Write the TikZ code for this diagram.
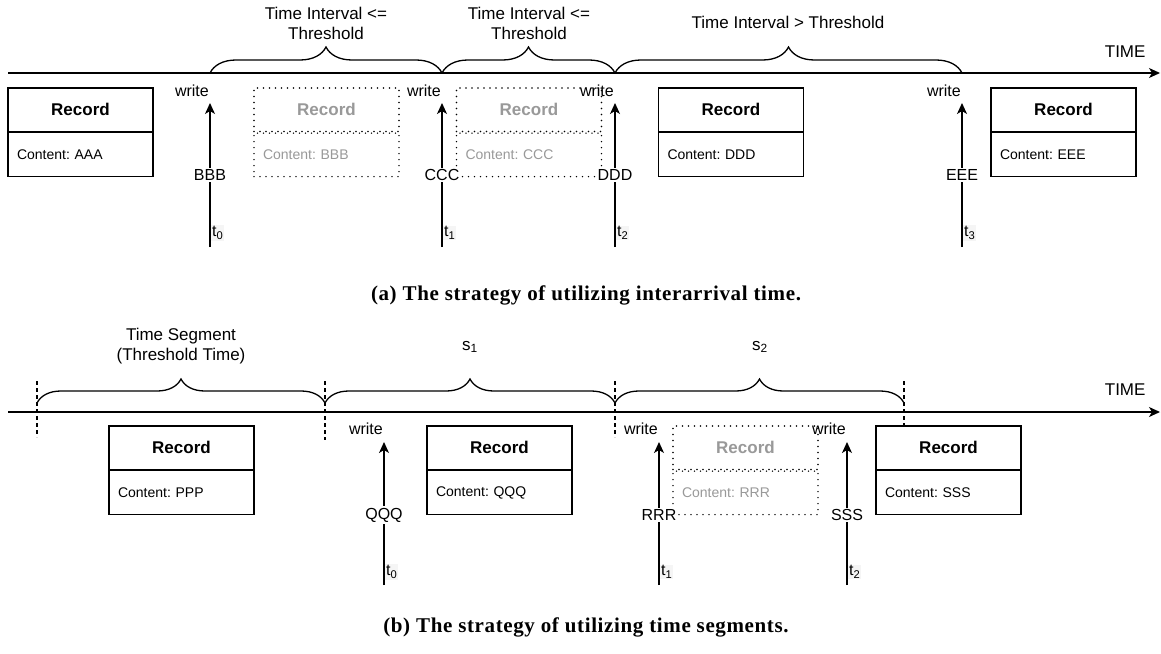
\documentclass[tikz,border=0pt]{standalone}
\usepackage{fontspec}
\setmainfont{Liberation Sans}
\newfontfamily\capfont[LetterSpace=3]{Liberation Serif}
\frenchspacing
\usetikzlibrary{arrows.meta,decorations.pathreplacing}

\begin{document}
\begin{tikzpicture}[
  x=1pt, y=-1pt,
  axis/.style      = {line width=1.3pt, -{Stealth[length=11pt,width=10pt,inset=3pt]}},
  arr/.style       = {line width=1.3pt, -{Stealth[length=11pt,width=10pt,inset=3pt]}},
  brc/.style       = {line width=1.3pt, decorate, decoration={brace, amplitude=#1}},
  seg/.style       = {line width=1.1pt, dash pattern=on 4pt off 3pt},
  rechead/.style   = {draw, line width=1.3pt, fill=white, minimum width=145pt, minimum height=43.5pt,
                      font=\fontsize{17}{20}\selectfont\bfseries},
  recbody/.style   = {draw, line width=1.3pt, fill=white, minimum width=145pt, minimum height=43.5pt,
                      text width=127pt, inner xsep=9pt, align=left, font=\fontsize{14}{17}\selectfont},
  ghosthead/.style = {rechead, line width=1.6pt, line cap=round, dash pattern=on 0pt off 6pt, text=black!40},
  ghostbody/.style = {recbody, line width=1.6pt, line cap=round, dash pattern=on 0pt off 6pt, text=black!40},
  lbl/.style       = {font=\fontsize{17}{20}\selectfont, align=center},
  wlbl/.style      = {font=\fontsize{16}{19}\selectfont, anchor=east, inner sep=0pt},
  idlbl/.style     = {font=\fontsize{16}{19}\selectfont, fill=white, inner sep=1.5pt},
  tlbl/.style      = {font=\fontsize{16}{19}\selectfont, anchor=west, fill=black!4, inner sep=1pt},
  capline/.style   = {font=\capfont\fontsize{21}{24}\selectfont\bfseries}
]
\useasboundingbox (0,0) rectangle (1161,653);

% ---- PANEL (a): interarrival time ----
\coordinate (ta0) at (8,73);
\coordinate (ta1) at (1160,73);
\draw[axis] (ta0) -- (ta1);
\node[lbl, anchor=east] (timea) at (1149,52) {TIME};

% braces over the intervals
\coordinate (ba0) at (210,73);
\coordinate (ba1) at (442,73);
\coordinate (ba2) at (615,73);
\coordinate (ba3) at (962,73);
\draw[brc=26pt] (ba0) -- (ba1);
\draw[brc=26pt] (ba1) -- (ba2);
\draw[brc=26pt] (ba2) -- (ba3);
\node[lbl] (ia1) at (326,23) {Time Interval <=\\Threshold};
\node[lbl] (ia2) at (529,23) {Time Interval <=\\Threshold};
\node[lbl] (ia3) at (788,22) {Time Interval > Threshold};

% records
\node[rechead] (ra) at (80.5,109.75) {Record};
\node[recbody, anchor=north] (rac) at (ra.south) {Content: AAA};
\node[ghosthead] (rb) at (326.5,109.75) {Record};
\node[ghostbody, anchor=north] (rbc) at (rb.south) {Content: BBB};
\node[ghosthead] (rc) at (529,109.75) {Record};
\node[ghostbody, anchor=north] (rcc) at (rc.south) {Content: CCC};
\node[rechead] (rd) at (731,109.75) {Record};
\node[recbody, anchor=north] (rdc) at (rd.south) {Content: DDD};
\node[rechead] (re) at (1063.5,109.75) {Record};
\node[recbody, anchor=north] (rec) at (re.south) {Content: EEE};

% writes
\coordinate (wa0b) at (210,247);
\coordinate (wa0h) at (210,103);
\draw[arr] (wa0b) -- node[idlbl] (ida0) {BBB} (wa0h);
\node[wlbl] (wla0) at (209,91) {write};
\node[tlbl] (tla0) at (211,233) {t\textsubscript{0}};

\coordinate (wa1b) at (442,247);
\coordinate (wa1h) at (442,103);
\draw[arr] (wa1b) -- node[idlbl] (ida1) {CCC} (wa1h);
\node[wlbl] (wla1) at (441,91) {write};
\node[tlbl] (tla1) at (443,233) {t\textsubscript{1}};

\coordinate (wa2b) at (615,247);
\coordinate (wa2h) at (615,103);
\draw[arr] (wa2b) -- node[idlbl] (ida2) {DDD} (wa2h);
\node[wlbl] (wla2) at (614,91) {write};
\node[tlbl] (tla2) at (616,233) {t\textsubscript{2}};

\coordinate (wa3b) at (962,247);
\coordinate (wa3h) at (962,103);
\draw[arr] (wa3b) -- node[idlbl] (ida3) {EEE} (wa3h);
\node[wlbl] (wla3) at (961,91) {write};
\node[tlbl] (tla3) at (963,233) {t\textsubscript{3}};

\node[capline] (capa) at (586,295) {(a) The strategy of utilizing interarrival time.};

% ---- PANEL (b): time segments ----
\begin{scope}[shift={(0,339)}]
  \coordinate (tb0) at (8,73);
  \coordinate (tb1) at (1160,73);
  \draw[axis] (tb0) -- (tb1);
  \node[lbl, anchor=east] (timeb) at (1149,51) {TIME};

  % segment borders
  \coordinate (sb0t) at (37,42);   \coordinate (sb0d) at (37,98);
  \coordinate (sb1t) at (325,42);  \coordinate (sb1d) at (325,101);
  \coordinate (sb2t) at (615,42);  \coordinate (sb2d) at (615,98);
  \coordinate (sb3t) at (904,42);  \coordinate (sb3d) at (904,87);
  \draw[seg] (sb0t) -- (sb0d);
  \draw[seg] (sb1t) -- (sb1d);
  \draw[seg] (sb2t) -- (sb2d);
  \draw[seg] (sb3t) -- (sb3d);

  \coordinate (bb0) at (37,64);
  \coordinate (bb1) at (325,64);
  \coordinate (bb2) at (615,64);
  \coordinate (bb3) at (904,64);
  \draw[brc=24pt] (bb0) -- (bb1);
  \draw[brc=24pt] (bb1) -- (bb2);
  \draw[brc=24pt] (bb2) -- (bb3);
  \node[lbl] (sg0) at (181,7.5) {Time Segment\\(Threshold Time)};
  \node[lbl] (sg1) at (470,8) {s\textsubscript{1}};
  \node[lbl] (sg2) at (760,8) {s\textsubscript{2}};

  % records
  \node[rechead] (rp) at (181.5,108.75) {Record};
  \node[recbody, anchor=north] (rpc) at (rp.south) {Content: PPP};
  \node[rechead] (rq) at (499.5,108.75) {Record};
  \node[recbody, anchor=north] (rqc) at (rq.south) {Content: QQQ};
  \node[ghosthead] (rr) at (745.5,108.75) {Record};
  \node[ghostbody, anchor=north] (rrc) at (rr.south) {Content: RRR};
  \node[rechead] (rs) at (948.5,108.75) {Record};
  \node[recbody, anchor=north] (rsc) at (rs.south) {Content: SSS};

  % writes
  \coordinate (wb0b) at (384,246);
  \coordinate (wb0h) at (384,103);
  \draw[arr] (wb0b) -- node[idlbl, pos=0.49] (idb0) {QQQ} (wb0h);
  \node[wlbl] (wlb0) at (383,90) {write};
  \node[tlbl] (tlb0) at (385,233) {t\textsubscript{0}};

  \coordinate (wb1b) at (659,246);
  \coordinate (wb1h) at (659,103);
  \draw[arr] (wb1b) -- node[idlbl, pos=0.49] (idb1) {RRR} (wb1h);
  \node[wlbl] (wlb1) at (658,90) {write};
  \node[tlbl] (tlb1) at (660,233) {t\textsubscript{1}};

  \coordinate (wb2b) at (847,246);
  \coordinate (wb2h) at (847,103);
  \draw[arr] (wb2b) -- node[idlbl, pos=0.49] (idb2) {SSS} (wb2h);
  \node[wlbl] (wlb2) at (846,90) {write};
  \node[tlbl] (tlb2) at (848,233) {t\textsubscript{2}};
\end{scope}

\node[capline] (capb) at (586,627) {(b) The strategy of utilizing time segments.};

\end{tikzpicture}
\end{document}
